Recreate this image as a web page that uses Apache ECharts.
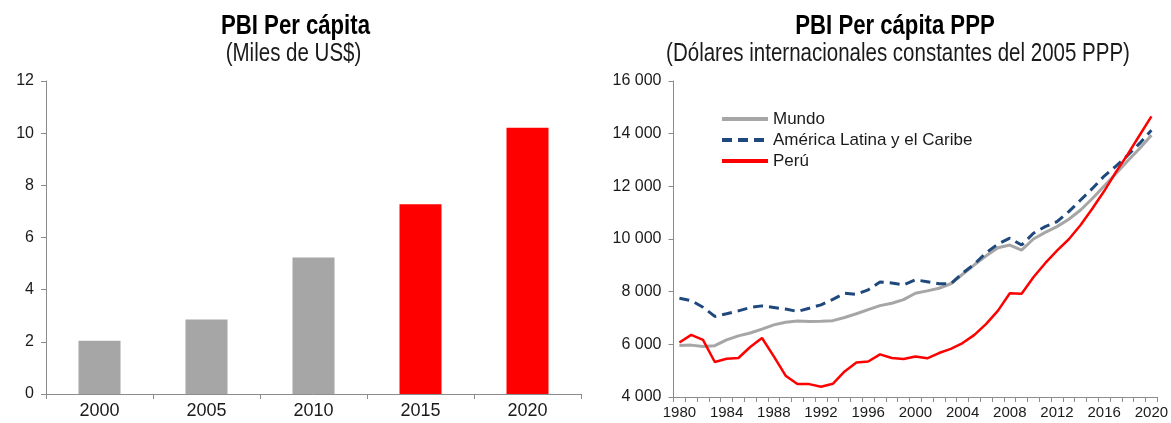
<!DOCTYPE html>
<html>
<head>
<meta charset="utf-8">
<script src="https://cdn.jsdelivr.net/npm/echarts@6/dist/echarts.min.js"></script>
<style>
  html, body { margin: 0; padding: 0; background: #ffffff; }
  #chart { width: 1171px; height: 423px; }
</style>
</head>
<body>
<div id="chart"></div>
<script>
// ---- Data ----
const barCategories = ['2000', '2005', '2010', '2015', '2020'];
const barValues = [2.04, 2.86, 5.23, 7.27, 10.21];
const barColors = ['#a6a6a6', '#a6a6a6', '#a6a6a6', '#ff0000', '#ff0000'];

const years = [];
for (let y = 1980; y <= 2020; y++) years.push(String(y));

const mundo = [5960, 5970, 5920, 5950, 6170, 6320, 6430, 6580, 6740, 6840,
               6890, 6870, 6880, 6900, 7020, 7160, 7320, 7470, 7560, 7700,
               7940, 8030, 8130, 8300, 8660, 9020, 9360, 9670, 9770, 9580,
               10000, 10250, 10470, 10750, 11100, 11540, 12010, 12490, 12970, 13440,
               13940];
const latam = [7750, 7660, 7410, 7060, 7160, 7270, 7400, 7460, 7400, 7340,
               7250, 7370, 7500, 7710, 7940, 7900, 8070, 8370, 8330, 8260,
               8450, 8380, 8300, 8300, 8700, 9050, 9480, 9810, 10030, 9770,
               10220, 10470, 10660, 11040, 11480, 11920, 12390, 12770, 13180, 13630,
               14130];
const peru = [6070, 6360, 6170, 5330, 5450, 5480, 5900, 6240, 5540, 4810,
              4490, 4490, 4390, 4500, 4970, 5310, 5350, 5620, 5480, 5440,
              5540, 5470, 5670, 5830, 6050, 6360, 6780, 7280, 7940, 7920,
              8550, 9080, 9560, 9990, 10530, 11160, 11820, 12550, 13220, 13940,
              14660];

const seriesNames = ['Mundo', 'América Latina y el Caribe', 'Perú'];
const leftTitle = 'PBI Per cápita';
const leftSubtitle = '(Miles de US$)';
const rightTitle = 'PBI Per cápita PPP';
const rightSubtitle = '(Dólares internacionales constantes del 2005 PPP)';

// ---- Chart ----
const FONT = "'Liberation Sans', Arial, sans-serif";
const axisColor = '#8c8c8c';
const textColor = '#1a1a1a';

const chart = echarts.init(document.getElementById('chart'), null, { renderer: 'canvas' });

function fmtThousands(v) {
  return String(v).replace(/\B(?=(\d{3})+(?!\d))/g, ' ');
}

function titleText(text, x, y, size, bold, color) {
  return {
    type: 'text', x: x, y: y, scaleX: 0.82, scaleY: 1, silent: true,
    style: {
      text: text, fill: color, textAlign: 'center', textVerticalAlign: 'middle',
      font: (bold ? 'bold ' : '') + size + "px 'Liberation Sans', Arial, sans-serif"
    }
  };
}

const option = {
  backgroundColor: '#ffffff',
  animation: false,
  graphic: [
    titleText(leftTitle, 295.5, 26.5, 27, true, '#000'),
    titleText(leftSubtitle, 293.5, 54.5, 25, false, textColor),
    titleText(rightTitle, 895, 26.5, 27, true, '#000'),
    titleText(rightSubtitle, 898, 54.5, 25, false, textColor)
  ],
  legend: {
    orient: 'vertical',
    left: 715,
    top: 104,
    itemWidth: 46,
    itemHeight: 20,
    itemGap: 1,
    data: seriesNames,
    itemStyle: { opacity: 0 },
    lineStyle: { width: 4 },
    textStyle: { fontFamily: FONT, fontSize: 17, color: textColor, lineHeight: 20 }
  },
  grid: [
    { left: 46, right: 590, top: 81, bottom: 29, containLabel: false },
    { left: 673.5, right: 6, top: 81, bottom: 26, containLabel: false }
  ],
  xAxis: [
    {
      gridIndex: 0, type: 'category', data: barCategories, boundaryGap: true,
      axisLine: { lineStyle: { color: axisColor, width: 1 } },
      axisTick: { show: true, length: 5, lineStyle: { color: axisColor } },
      axisLabel: { fontFamily: FONT, fontSize: 18, color: textColor, margin: 8 }
    },
    {
      gridIndex: 1, type: 'category', data: years, boundaryGap: true,
      axisLine: { lineStyle: { color: axisColor, width: 1 } },
      axisTick: { show: true, interval: 0, length: 5, lineStyle: { color: axisColor } },
      axisLabel: { fontFamily: FONT, fontSize: 15, color: textColor, interval: 3, margin: 8 }
    }
  ],
  yAxis: [
    {
      gridIndex: 0, type: 'value', min: 0, max: 12, interval: 2,
      axisLine: { show: true, lineStyle: { color: axisColor, width: 1 } },
      axisTick: { show: true, length: 5, lineStyle: { color: axisColor } },
      splitLine: { show: false },
      axisLabel: { fontFamily: FONT, fontSize: 16, color: textColor, margin: 12 }
    },
    {
      gridIndex: 1, type: 'value', min: 4000, max: 16000, interval: 2000,
      axisLine: { show: true, lineStyle: { color: axisColor, width: 1 } },
      axisTick: { show: true, length: 5, lineStyle: { color: axisColor } },
      splitLine: { show: false },
      axisLabel: { fontFamily: FONT, fontSize: 16, color: textColor, margin: 12,
                   formatter: fmtThousands }
    }
  ],
  series: [
    {
      type: 'bar', xAxisIndex: 0, yAxisIndex: 0, barWidth: 42,
      data: barValues.map((v, i) => ({ value: v, itemStyle: { color: barColors[i] } })),
      silent: true
    },
    {
      name: seriesNames[0], type: 'line', xAxisIndex: 1, yAxisIndex: 1,
      data: mundo, symbol: 'none', smooth: false,
      lineStyle: { color: '#a6a6a6', width: 3 }, itemStyle: { color: '#a6a6a6' }, z: 3
    },
    {
      name: seriesNames[1], type: 'line', xAxisIndex: 1, yAxisIndex: 1,
      data: latam, symbol: 'none',
      lineStyle: { color: '#1f497d', width: 3, type: [10, 6] }, itemStyle: { color: '#1f497d' }, z: 4
    },
    {
      name: seriesNames[2], type: 'line', xAxisIndex: 1, yAxisIndex: 1,
      data: peru, symbol: 'none',
      lineStyle: { color: '#ff0000', width: 2.5 }, itemStyle: { color: '#ff0000' }, z: 5
    }
  ]
};

chart.setOption(option);
</script>
</body>
</html>
